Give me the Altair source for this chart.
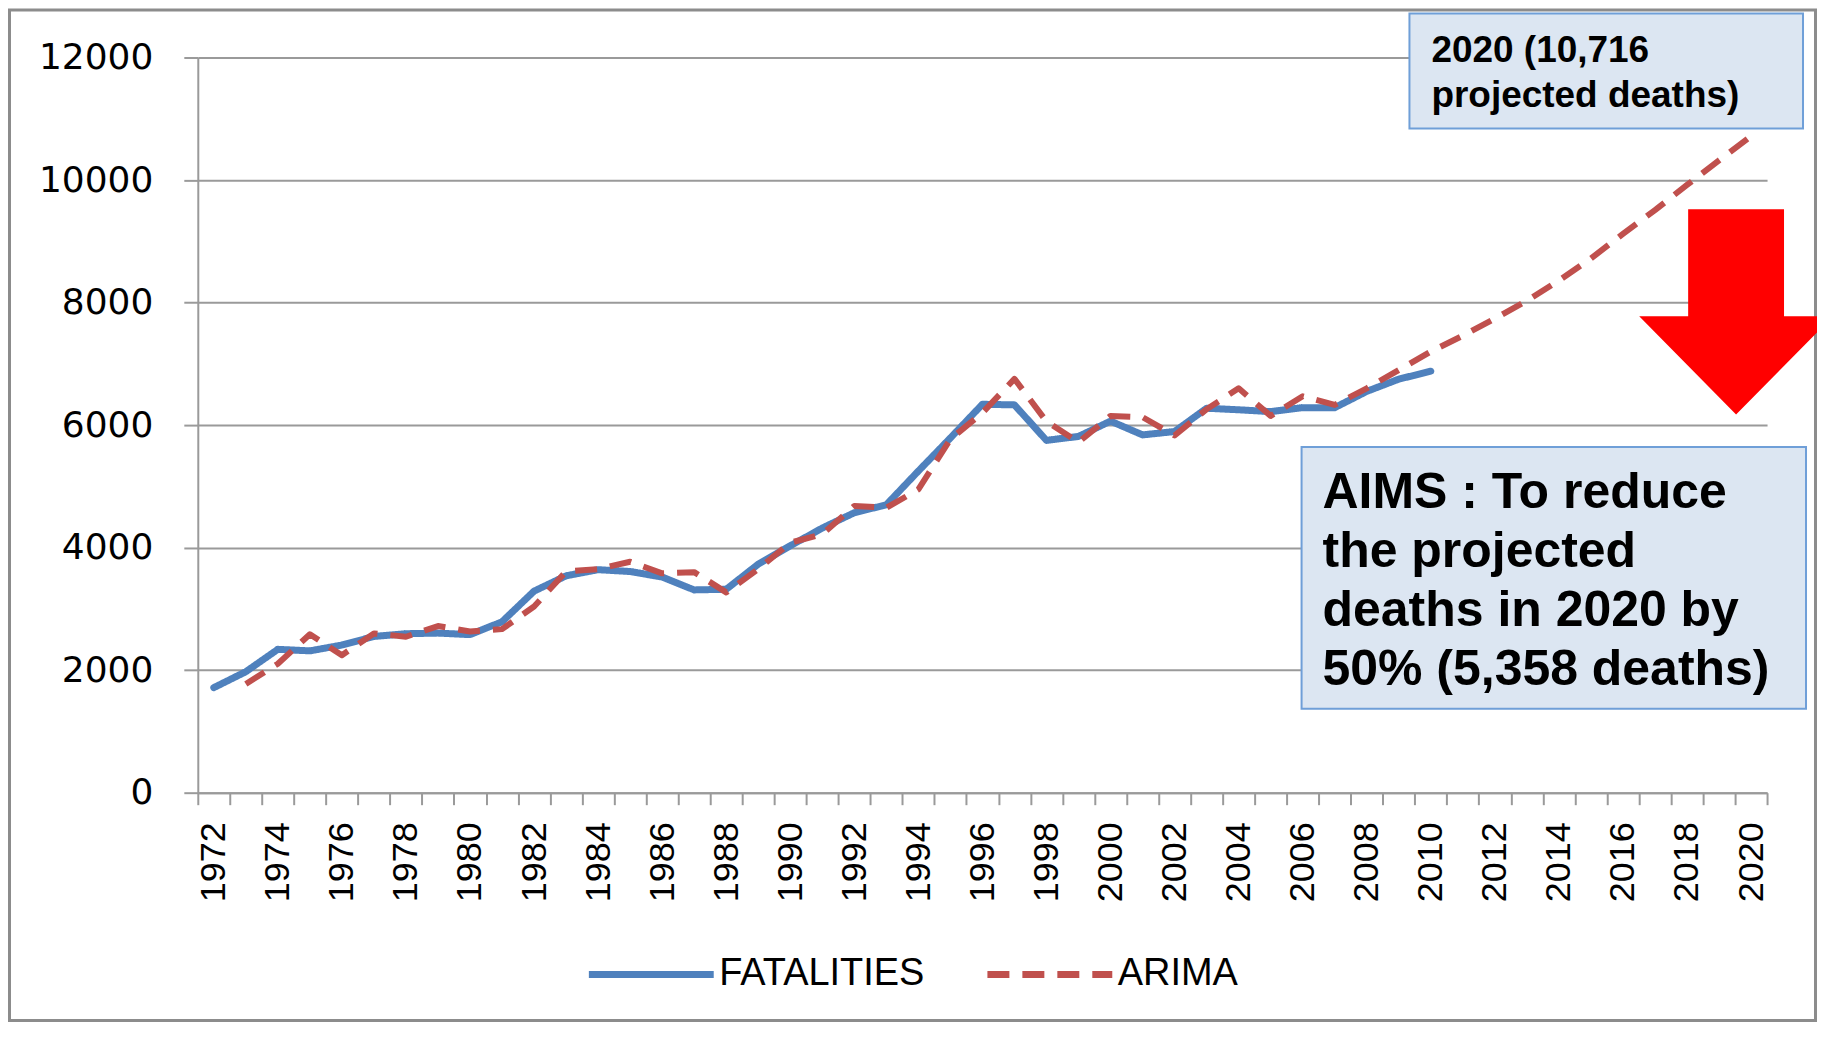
import altair as alt
import pandas as pd

# ---------------- data ----------------
years = [1972, 1973, 1974, 1975, 1976, 1977, 1978, 1979, 1980, 1981,
         1982, 1983, 1984, 1985, 1986, 1987, 1988, 1989, 1990, 1991,
         1992, 1993, 1994, 1995, 1996, 1997, 1998, 1999, 2000, 2001,
         2002, 2003, 2004, 2005, 2006, 2007, 2008, 2009, 2010, 2011,
         2012, 2013, 2014, 2015, 2016, 2017, 2018, 2019, 2020]

fatalities = [1715, 1975, 2340, 2315, 2410, 2550, 2595, 2605, 2580, 2790,
              3290, 3540, 3640, 3610, 3520, 3310, 3320, 3730, 4030, 4320,
              4570, 4700, 5250, 5790, 6340, 6330, 5750, 5815, 6065, 5840,
              5895, 6275, 6250, 6220, 6285, 6285, 6550, 6750, 6880, None,
              None, None, None, None, None, None, None, None, None]

arima = [None, 1775, 2105, 2585, 2245, 2600, 2545, 2720, 2630, 2670,
         3040, 3610, 3650, 3770, 3580, 3600, 3270, 3650, 4080, 4220,
         4680, 4650, 4950, 5770, 6200, 6755, 6060, 5720, 6150, 6130,
         5830, 6260, 6600, 6150, 6470, 6330, 6600, 6900, 7200, 7460,
         7740, 8030, 8360, 8720, 9120, 9510, 9920, 10320, 10716]

series_names = ["FATALITIES", "ARIMA"]
series_colors = ["#4F81BD", "#C0504D"]
y_ticks = [0, 2000, 4000, 6000, 8000, 10000, 12000]

box1_text = "2020 (10,716\nprojected deaths)"
box2_text = "AIMS : To reduce\nthe projected\ndeaths in 2020 by\n50% (5,358 deaths)"

# ---------------- tables ----------------
fat_df = pd.DataFrame({"year": years, "value": fatalities, "series": "FATALITIES"}).dropna()
ari_df = pd.DataFrame({"year": years, "value": arima, "series": "ARIMA"}).dropna()
one = pd.DataFrame({"k": [0]})

# ---------------- layout constants (pixels, relative to plot origin) ----------------
W, H = 1571, 736
PAD = {"left": 190, "top": 49, "right": 50, "bottom": 230}

GRAY = "#9a9a9a"
boundaries = [y - 0.5 for y in years] + [years[-1] + 0.5]
x_tick_values = sorted(boundaries + [y for y in years if y % 2 == 0])

x_enc = alt.X(
    "year:Q",
    scale=alt.Scale(domain=[years[0] - 0.5, years[-1] + 0.5], nice=False, zero=False),
    axis=alt.Axis(
        values=x_tick_values,
        labelExpr="datum.value % 2 == 0 ? '' + datum.value : ''",
        labelAngle=270,
        labelFont="Liberation Sans",
        labelFontSize=36,
        labelColor="#000000",
        labelPadding=17,
        labelOverlap=False,
        labelFlush=False,
        grid=False,
        domainColor=GRAY,
        domainWidth=2,
        tickColor=GRAY,
        tickWidth=2,
        tickSize=12,
        tickOpacity={"condition": {"test": "datum.value % 1 != 0", "value": 1}, "value": 0},
        title=None,
    ),
)

y_enc = alt.Y(
    "value:Q",
    scale=alt.Scale(domain=[0, 12000], nice=False),
    axis=alt.Axis(
        values=y_ticks,
        format="d",
        labelFont="DejaVu Sans",
        labelFontSize=36,
        labelColor="#000000",
        labelPadding=31,
        grid=True,
        gridColor=GRAY,
        gridWidth=2,
        domainColor=GRAY,
        domainWidth=2,
        tickColor=GRAY,
        tickWidth=2,
        tickSize=14,
        title=None,
    ),
)

legend = alt.Legend(
    orient="none",
    legendX=388,
    legendY=852,
    direction="horizontal",
    title=None,
    symbolType="stroke",
    symbolSize=15625,
    symbolStrokeWidth=7,
    labelFont="Liberation Sans",
    labelFontSize=38,
    labelColor="#000000",
    labelLimit=0,
    labelOffset=2,
    columnPadding=48,
    padding=0,
)

color_enc = alt.Color("series:N", scale=alt.Scale(domain=series_names, range=series_colors), legend=legend)
dash_enc = alt.StrokeDash("series:N", scale=alt.Scale(domain=series_names, range=[[1, 0], [22, 13]]), legend=legend)

blue = alt.Chart(fat_df).mark_line(strokeWidth=7, strokeJoin="round", strokeCap="round").encode(
    x=x_enc, y=y_enc, color=color_enc, strokeDash=dash_enc
)
red = alt.Chart(ari_df).mark_line(strokeWidth=6, strokeJoin="round").encode(
    x=x_enc, y=y_enc, color=color_enc, strokeDash=dash_enc
)

frame = alt.Chart(one).mark_rect(fillOpacity=0, stroke="#8c8c8c", strokeWidth=3).encode(
    x=alt.value(-188.5), x2=alt.value(1619.5), y=alt.value(-47.5), y2=alt.value(964)
)

box1 = alt.Chart(one).mark_rect(fill="#DCE6F2", stroke="#6F9FD8", strokeWidth=2).encode(
    x=alt.value(1213), x2=alt.value(1607), y=alt.value(-44), y2=alt.value(71)
)
text1 = alt.Chart(one).mark_text(
    align="left", baseline="top", font="Liberation Sans", fontWeight="bold",
    fontSize=37, lineHeight=45.5, lineBreak="\n", color="#000000"
).encode(x=alt.value(1235), y=alt.value(-25), text=alt.value(box1_text))

box2 = alt.Chart(one).mark_rect(fill="#DCE6F2", stroke="#6F9FD8", strokeWidth=2).encode(
    x=alt.value(1105), x2=alt.value(1610), y=alt.value(390), y2=alt.value(652)
)
text2 = alt.Chart(one).mark_text(
    align="left", baseline="top", font="Liberation Sans", fontWeight="bold",
    fontSize=50, lineHeight=59.3, lineBreak="\n", color="#000000"
).encode(x=alt.value(1126), y=alt.value(410.5), text=alt.value(box2_text))

arrow_path = ("M -0.467 -1 L 0.467 -1 L 0.467 0.041 L 0.944 0.041 "
              "L 0 1 L -0.944 0.041 L -0.467 0.041 Z")
arrow = alt.Chart(one).mark_point(
    shape=arrow_path, size=42230, filled=True, fill="#FF0000", strokeWidth=0, opacity=1
).encode(x=alt.value(1540), y=alt.value(254.75))

chart = alt.layer(frame, blue, red, box1, text1, box2, text2, arrow).properties(
    width=W,
    height=H,
    padding=PAD,
    autosize=alt.AutoSizeParams(type="none"),
    background="white",
).configure_view(strokeWidth=0)

chart.save("out.html", embed_options={"renderer": "svg", "actions": False})
